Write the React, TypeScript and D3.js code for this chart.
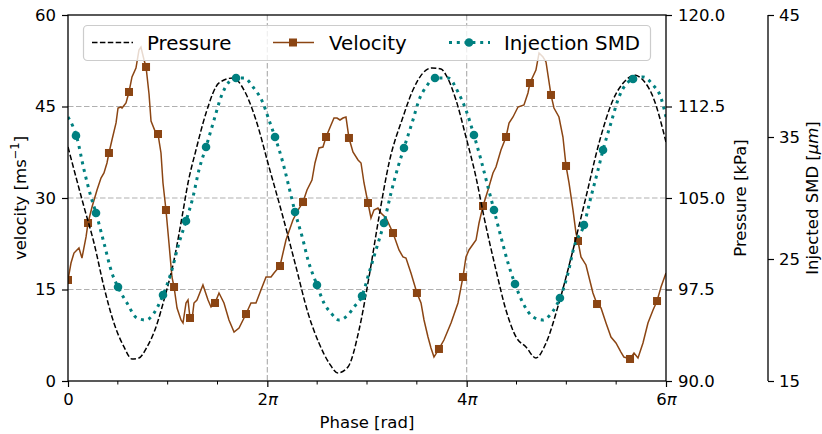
import { useEffect, useRef } from 'react';
import * as d3 from 'd3';

// phase values are stored in multiples of pi
const pressurePhase = [
  0, 0.161, 0.261, 0.361, 0.461, 0.562, 0.642, 0.712, 0.793, 0.883, 0.963, 1.064, 1.144, 1.204,
  1.284, 1.385, 1.515, 1.655, 1.766, 1.886, 2.017, 2.157, 2.288, 2.408, 2.518, 2.619, 2.709,
  2.809, 2.92, 3.02, 3.12, 3.221, 3.361, 3.461, 3.562, 3.652, 3.742, 3.793, 3.893, 3.993, 4.093,
  4.174, 4.294, 4.394, 4.495, 4.595, 4.695, 4.796, 4.926, 5.067, 5.197, 5.328, 5.468, 5.599,
  5.679, 5.769, 5.87, 6,
];
const pressureKPa = [
  109.18, 104.26, 101.31, 97.7, 94.75, 92.79, 91.8, 91.89, 92.79, 94.43, 96.64, 99.92, 103.44,
  106.23, 108.93, 111.97, 114.43, 114.84, 113.85, 111.39, 107.54, 103.44, 99.34, 95.57, 93.11,
  91.48, 90.66, 91.15, 94.18, 98.52, 103.44, 107.87, 111.64, 113.85, 115.25, 115.66, 115.57,
  115.08, 113.03, 110.0, 106.72, 103.44, 99.1, 95.82, 93.61, 92.79, 91.89, 93.11, 96.39, 100.74,
  105.08, 109.51, 113.03, 114.67, 115.08, 114.67, 113.28, 109.59,
];

const smdPhase = [
  0, 0.09, 0.161, 0.231, 0.281, 0.361, 0.441, 0.502, 0.592, 0.692, 0.783, 0.863, 0.953, 1.033,
  1.114, 1.184, 1.254, 1.314, 1.385, 1.465, 1.535, 1.615, 1.686, 1.766, 1.856, 1.956, 2.017,
  2.077, 2.157, 2.217, 2.278, 2.358, 2.408, 2.498, 2.568, 2.639, 2.719, 2.809, 2.87, 2.95, 3.02,
  3.09, 3.17, 3.241, 3.311, 3.371, 3.461, 3.522, 3.592, 3.682, 3.813, 3.913, 3.993, 4.073, 4.144,
  4.214, 4.274, 4.344, 4.415, 4.485, 4.565, 4.666, 4.766, 4.836, 4.886, 4.936, 5.017, 5.077,
  5.177, 5.247, 5.318, 5.368, 5.448, 5.528, 5.669, 5.769, 5.87, 5.95, 6,
];
const smdMicron = [
  36.64, 34.92, 32.3, 30.08, 28.77, 26.31, 23.85, 22.7, 21.39, 20.16, 20.0, 20.57, 22.05, 23.85,
  26.31, 28.11, 30.08, 32.3, 34.18, 36.39, 38.28, 39.51, 39.84, 39.84, 39.1, 37.79, 36.39, 35.0,
  32.87, 30.9, 28.85, 26.56, 24.92, 22.87, 21.39, 20.57, 20.0, 20.41, 21.07, 21.97, 23.85, 25.74,
  27.95, 30.41, 32.54, 34.1, 36.39, 38.03, 39.1, 39.84, 39.84, 38.69, 37.21, 35.16, 33.11, 30.9,
  29.02, 26.8, 24.67, 22.95, 21.39, 20.25, 20.0, 20.41, 20.98, 21.8, 23.85, 25.98, 27.79, 30.08,
  32.3, 33.93, 36.15, 38.28, 39.75, 39.92, 39.26, 38.2, 36.64,
];
const smdMarkerPhase = [
  0.08, 0.281, 0.502, 0.953, 1.184, 1.385, 1.686, 2.077, 2.278, 2.498, 2.95, 3.17, 3.371, 3.682,
  4.073, 4.274, 4.485, 4.936, 5.177, 5.368, 5.669,
];

const velocityPhase = [
  0, 0.03, 0.06, 0.11, 0.14, 0.181, 0.201, 0.241, 0.291, 0.331, 0.361, 0.391, 0.411, 0.441, 0.482,
  0.502, 0.532, 0.542, 0.582, 0.612, 0.642, 0.682, 0.712, 0.732, 0.763, 0.783, 0.813, 0.833, 0.873,
  0.903, 0.933, 0.953, 0.983, 1.013, 1.043, 1.064, 1.094, 1.134, 1.154, 1.184, 1.204, 1.224, 1.244,
  1.264, 1.294, 1.354, 1.405, 1.435, 1.475, 1.515, 1.565, 1.615, 1.666, 1.716, 1.786, 1.836, 1.886,
  1.936, 1.987, 2.037, 2.067, 2.127, 2.187, 2.257, 2.308, 2.358, 2.398, 2.448, 2.478, 2.518, 2.558,
  2.589, 2.639, 2.669, 2.699, 2.729, 2.759, 2.789, 2.819, 2.859, 2.91, 2.94, 2.97, 3.01, 3.04, 3.07,
  3.11, 3.14, 3.191, 3.261, 3.321, 3.361, 3.391, 3.441, 3.501, 3.542, 3.572, 3.612, 3.642, 3.672,
  3.722, 3.772, 3.843, 3.913, 3.963, 3.993, 4.023, 4.094, 4.124, 4.164, 4.214, 4.264, 4.294, 4.344,
  4.395, 4.425, 4.465, 4.515, 4.575, 4.615, 4.635, 4.695, 4.726, 4.766, 4.796, 4.846, 4.876, 4.926,
  4.966, 4.997, 5.027, 5.067, 5.097, 5.117, 5.147, 5.197, 5.227, 5.267, 5.308, 5.348, 5.398, 5.448,
  5.498, 5.548, 5.578, 5.639, 5.679, 5.719, 5.769, 5.819, 5.87, 5.91, 5.95, 6,
];
const velocityMs = [
  16.56, 19.34, 20.98, 21.8, 20.16, 23.61, 25.9, 28.52, 31.31, 33.28, 34.1, 35.74, 37.38, 39.51,
  42.3, 44.75, 44.92, 44.75, 45.57, 47.38, 49.84, 51.31, 54.26, 54.75, 52.62, 51.48, 47.05, 42.62,
  40.98, 40.49, 37.38, 32.46, 28.03, 22.62, 17.05, 15.41, 11.97, 10.0, 9.51, 12.79, 13.28, 10.33,
  10.0, 12.79, 13.28, 15.74, 13.28, 12.13, 12.79, 14.43, 12.79, 10.0, 8.03, 8.69, 10.98, 12.79,
  12.79, 14.92, 17.05, 17.05, 17.7, 18.85, 23.11, 26.39, 28.03, 29.34, 31.31, 32.95, 35.74, 38.2,
  38.36, 40.0, 41.97, 43.11, 43.11, 42.79, 43.11, 43.28, 39.84, 37.54, 36.23, 35.74, 32.46, 29.18,
  26.72, 28.03, 28.36, 27.54, 26.72, 24.26, 21.48, 20.33, 20.16, 17.7, 14.43, 12.79, 10.0, 7.21,
  5.41, 3.93, 5.25, 6.72, 9.51, 12.79, 17.05, 20.33, 21.48, 23.11, 25.9, 28.69, 31.31, 34.1, 35.08,
  37.87, 40.0, 42.3, 43.28, 44.92, 45.25, 47.21, 48.85, 50.98, 53.77, 53.11, 52.3, 46.89, 44.75,
  43.28, 40.0, 35.25, 32.46, 28.03, 24.26, 22.95, 20.33, 19.02, 17.05, 14.43, 12.62, 11.97, 9.51,
  7.21, 6.23, 4.75, 3.93, 3.61, 4.59, 3.77, 6.23, 9.51, 11.64, 13.11, 15.41, 17.7,
];
const velocityMarkerPhase = [
  0, 0.201, 0.411, 0.612, 0.783, 0.903, 0.983, 1.064, 1.224, 1.475, 1.786, 2.127, 2.358, 2.589,
  2.819, 3.01, 3.261, 3.501, 3.722, 3.963, 4.164, 4.395, 4.635, 4.846, 4.997, 5.117, 5.308, 5.639,
  5.91,
];

const velocityTicks = [0, 15, 30, 45, 60];
const pressureTicks = [90, 97.5, 105, 112.5, 120];
const smdTicks = [15, 25, 35, 45];
const phaseMajorTicks = [0, 2, 4, 6];
const phaseMinorTicks = [0.5, 1, 1.5, 2.5, 3, 3.5, 4.5, 5, 5.5];

const FONT = 'DejaVu Sans, sans-serif';
const BROWN = '#8b4513';
const TEAL = '#008080';

function valueAt(xs: number[], ys: number[], p: number) {
  const i = d3.bisectLeft(xs, p);
  if (i <= 0) return ys[0];
  if (i >= xs.length) return ys[ys.length - 1];
  const t = (p - xs[i - 1]) / (xs[i] - xs[i - 1]);
  return ys[i - 1] + t * (ys[i] - ys[i - 1]);
}

export default function App() {
  const svgRef = useRef<SVGSVGElement>(null);

  useEffect(() => {
    if (!svgRef.current) return;
    const svg = d3.select(svgRef.current);
    svg.selectAll('*').remove();

    const left = 68;
    const right = 666;
    const top = 15;
    const bottom = 381;
    const smdAxisX = 768;

    const x = d3.scaleLinear().domain([0, 6 * Math.PI]).range([left, right]);
    const yVel = d3.scaleLinear().domain([0, 60]).range([bottom, top]);
    const yP = d3.scaleLinear().domain([90, 120]).range([bottom, top]);
    const ySmd = d3.scaleLinear().domain([15, 45]).range([bottom, top]);
    const px = (p: number) => x(p * Math.PI);

    svg
      .append('defs')
      .append('clipPath')
      .attr('id', 'plot-clip')
      .append('rect')
      .attr('x', left)
      .attr('y', top)
      .attr('width', right - left)
      .attr('height', bottom - top);

    // grid
    const grid = svg.append('g');
    velocityTicks.slice(1, -1).forEach((v) => {
      grid.append('line')
        .attr('x1', left).attr('x2', right)
        .attr('y1', yVel(v)).attr('y2', yVel(v))
        .attr('stroke', '#b0b0b0').attr('stroke-width', 1.2)
        .attr('stroke-dasharray', '5.5,2.5');
    });
    phaseMajorTicks.slice(1, -1).forEach((p) => {
      grid.append('line')
        .attr('x1', px(p)).attr('x2', px(p))
        .attr('y1', top).attr('y2', bottom)
        .attr('stroke', '#b0b0b0').attr('stroke-width', 1.2)
        .attr('stroke-dasharray', '5.5,2.5');
    });

    const plot = svg.append('g').attr('clip-path', 'url(#plot-clip)');

    // velocity
    const velLine = d3.line<number>()
      .x((_, i) => px(velocityPhase[i]))
      .y((d) => yVel(d));
    plot.append('path')
      .datum(velocityMs)
      .attr('d', velLine)
      .attr('fill', 'none')
      .attr('stroke', BROWN)
      .attr('stroke-width', 1.5);
    velocityMarkerPhase.forEach((p) => {
      const v = valueAt(velocityPhase, velocityMs, p);
      plot.append('rect')
        .attr('x', px(p) - 4).attr('y', yVel(v) - 4)
        .attr('width', 8).attr('height', 8)
        .attr('fill', BROWN);
    });

    // pressure
    const pLine = d3.line<number>()
      .x((_, i) => px(pressurePhase[i]))
      .y((d) => yP(d))
      .curve(d3.curveMonotoneX);
    plot.append('path')
      .datum(pressureKPa)
      .attr('d', pLine)
      .attr('fill', 'none')
      .attr('stroke', '#000')
      .attr('stroke-width', 1.5)
      .attr('stroke-dasharray', '5.5,2.4');

    // injection SMD
    const smdLine = d3.line<number>()
      .x((_, i) => px(smdPhase[i]))
      .y((d) => ySmd(d))
      .curve(d3.curveMonotoneX);
    plot.append('path')
      .datum(smdMicron)
      .attr('d', smdLine)
      .attr('fill', 'none')
      .attr('stroke', TEAL)
      .attr('stroke-width', 3)
      .attr('stroke-dasharray', '3,4.8');
    smdMarkerPhase.forEach((p) => {
      const s = valueAt(smdPhase, smdMicron, p);
      plot.append('circle')
        .attr('cx', px(p)).attr('cy', ySmd(s))
        .attr('r', 4.3)
        .attr('fill', TEAL);
    });

    const styleAxis = (g: d3.Selection<SVGGElement, unknown, null, undefined>) => {
      g.selectAll('.domain').remove();
      g.selectAll('.tick line').attr('stroke', '#000').attr('stroke-width', 1.2);
      g.selectAll('.tick text')
        .attr('fill', '#000')
        .attr('font-family', FONT)
        .attr('font-size', '16.5px');
    };

    // left axis
    const gLeft = svg.append('g')
      .attr('transform', `translate(${left},0)`)
      .call(d3.axisLeft(yVel).tickValues(velocityTicks).tickSize(6).tickPadding(6).tickFormat(d3.format('d')));
    styleAxis(gLeft);

    // right pressure axis
    const gRight = svg.append('g')
      .attr('transform', `translate(${right},0)`)
      .call(d3.axisRight(yP).tickValues(pressureTicks).tickSize(6).tickPadding(6).tickFormat(d3.format('.1f')));
    styleAxis(gRight);

    // SMD axis (offset)
    const gSmd = svg.append('g')
      .attr('transform', `translate(${smdAxisX},0)`)
      .call(d3.axisRight(ySmd).tickValues(smdTicks).tickSize(6).tickPadding(5).tickFormat(d3.format('d')));
    styleAxis(gSmd);
    gSmd.append('line')
      .attr('x1', 0).attr('x2', 0).attr('y1', top).attr('y2', bottom)
      .attr('stroke', '#000').attr('stroke-width', 1.3);

    // bottom axis
    const gBottom = svg.append('g')
      .attr('transform', `translate(0,${bottom})`)
      .call(
        d3.axisBottom(x)
          .tickValues(phaseMajorTicks.map((p) => p * Math.PI))
          .tickSize(6)
          .tickPadding(6)
          .tickFormat(() => '')
      );
    styleAxis(gBottom);
    gBottom.selectAll<SVGTextElement, number>('.tick text').each(function (d) {
      const n = Math.round(d / Math.PI);
      const t = d3.select(this);
      if (n === 0) {
        t.text('0');
      } else {
        t.append('tspan').text(String(n));
        t.append('tspan').attr('font-style', 'italic').text('π');
      }
    });
    phaseMinorTicks.forEach((p) => {
      svg.append('line')
        .attr('x1', px(p)).attr('x2', px(p))
        .attr('y1', bottom).attr('y2', bottom + 3.5)
        .attr('stroke', '#000').attr('stroke-width', 1);
    });

    // frame
    svg.append('rect')
      .attr('x', left).attr('y', top)
      .attr('width', right - left).attr('height', bottom - top)
      .attr('fill', 'none').attr('stroke', '#000').attr('stroke-width', 1.3);

    // axis labels
    svg.append('text')
      .attr('x', (left + right) / 2).attr('y', 428)
      .attr('text-anchor', 'middle')
      .attr('font-family', FONT).attr('font-size', '16.5px')
      .text('Phase [rad]');

    const vLabel = svg.append('text')
      .attr('transform', `translate(26,${(top + bottom) / 2}) rotate(-90)`)
      .attr('text-anchor', 'middle')
      .attr('font-family', FONT).attr('font-size', '16.5px');
    vLabel.append('tspan').text('velocity [ms');
    vLabel.append('tspan').attr('font-size', '11.5px').attr('dy', -7).text('−1');
    vLabel.append('tspan').attr('dy', 7).text(']');

    svg.append('text')
      .attr('transform', `translate(746,${(top + bottom) / 2}) rotate(-90)`)
      .attr('text-anchor', 'middle')
      .attr('font-family', FONT).attr('font-size', '16.5px')
      .text('Pressure [kPa]');

    const sLabel = svg.append('text')
      .attr('transform', `translate(818,${(top + bottom) / 2}) rotate(-90)`)
      .attr('text-anchor', 'middle')
      .attr('font-family', FONT).attr('font-size', '16.5px');
    sLabel.append('tspan').text('Injected SMD [');
    sLabel.append('tspan').attr('font-style', 'italic').text('μm');
    sLabel.append('tspan').text(']');

    // legend
    const lg = svg.append('g');
    lg.append('rect')
      .attr('x', 83.5).attr('y', 25.5)
      .attr('width', 567).attr('height', 35)
      .attr('rx', 4)
      .attr('fill', '#fff').attr('fill-opacity', 0.8)
      .attr('stroke', '#cccccc').attr('stroke-width', 1.2);
    const ly = 42.5;
    lg.append('line')
      .attr('x1', 92).attr('x2', 133).attr('y1', ly).attr('y2', ly)
      .attr('stroke', '#000').attr('stroke-width', 1.5).attr('stroke-dasharray', '5.5,2.4');
    lg.append('line')
      .attr('x1', 273).attr('x2', 314).attr('y1', ly).attr('y2', ly)
      .attr('stroke', BROWN).attr('stroke-width', 1.5);
    lg.append('rect')
      .attr('x', 289).attr('y', ly - 4).attr('width', 8).attr('height', 8)
      .attr('fill', BROWN);
    lg.append('line')
      .attr('x1', 449).attr('x2', 490).attr('y1', ly).attr('y2', ly)
      .attr('stroke', TEAL).attr('stroke-width', 3).attr('stroke-dasharray', '3,4.8');
    lg.append('circle')
      .attr('cx', 469).attr('cy', ly).attr('r', 4.3)
      .attr('fill', TEAL);
    [
      { label: 'Pressure', x: 147 },
      { label: 'Velocity', x: 329 },
      { label: 'Injection SMD', x: 504 },
    ].forEach((item) => {
      lg.append('text')
        .attr('x', item.x).attr('y', 49.5)
        .attr('font-family', FONT).attr('font-size', '19.8px')
        .text(item.label);
    });
  }, []);

  return (
    <svg
      ref={svgRef}
      width={822}
      height={434}
      style={{ position: 'absolute', left: 0, top: 0, background: '#fff' }}
    />
  );
}
